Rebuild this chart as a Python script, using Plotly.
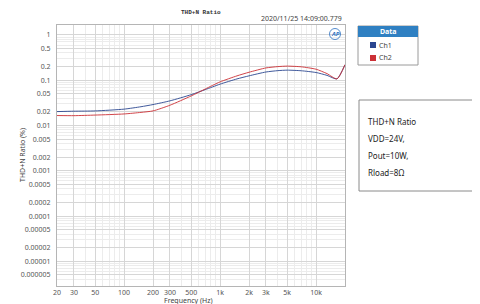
import plotly.graph_objects as go
import numpy as np

freq = [20, 30, 50, 100, 150, 200, 300, 500, 700, 1000, 1500, 2000, 3000, 4000, 5000, 7000, 10000, 13000, 16500, 20000]
ch1 = [0.0203, 0.0207, 0.021, 0.023, 0.026, 0.029, 0.035, 0.048, 0.062, 0.082, 0.107, 0.125, 0.152, 0.163, 0.167, 0.162, 0.148, 0.128, 0.107, 0.22]
ch2 = [0.0166, 0.0165, 0.017, 0.018, 0.0195, 0.021, 0.028, 0.045, 0.064, 0.092, 0.125, 0.150, 0.187, 0.200, 0.205, 0.198, 0.175, 0.14, 0.107, 0.22]

x_tickvals = [20, 30, 50, 100, 200, 300, 500, 1000, 2000, 3000, 5000, 10000]
x_ticktext = ["20", "30", "50", "100", "200", "300", "500", "1k", "2k", "3k", "5k", "10k"]
y_tickvals = [1, 0.5, 0.2, 0.1, 0.05, 0.02, 0.01, 0.005, 0.002, 0.001, 0.0005, 0.0002,
              0.0001, 0.00005, 0.00002, 0.00001, 0.000005]
y_ticktext = ["1", "0.5", "0.2", "0.1", "0.05", "0.02", "0.01", "0.005", "0.002", "0.001", "0.0005",
              "0.0002", "0.0001", "0.00005", "0.00002", "0.00001", "0.000005"]
info_lines = ["THD+N Ratio", "VDD=24V,", "Pout=10W,", "Rload=8Ω"]
legend_names = ["Ch1", "Ch2"]
colors = ["#2a4690", "#cc3036"]

OFF = 8  # page body margin
W, H = 480 - OFF, 304 - OFF
L, R, T, B = 57 - OFF, 345 - OFF, 25 - OFF, 286 - OFF


def px(p):
    return (p - OFF - L) / (R - L)


def py(p):
    return (B - (p - OFF)) / (B - T)


minor_x = [m * 10 ** e for e in range(1, 5) for m in range(1, 10) if 20 <= m * 10 ** e <= 20000]
minor_y = [m * 10 ** e for e in range(-6, 1) for m in range(1, 10)]

fig = go.Figure()
for name, vals, c in zip(legend_names, [ch1, ch2], colors):
    fig.add_trace(go.Scatter(x=freq, y=vals, mode="lines", name=name,
                             line=dict(color=c, width=0.9, shape="spline", smoothing=0.6),
                             showlegend=False))

tickfont = dict(family="Noto Sans, Open Sans, sans-serif", size=7, color="#555")
fig.update_layout(
    width=W, height=H,
    margin=dict(l=L, r=W - R, t=T, b=H - B, pad=0),
    paper_bgcolor="white", plot_bgcolor="white",
    xaxis=dict(type="log", range=[np.log10(20), np.log10(20000)], automargin=False,
               tickmode="array", tickvals=x_tickvals, ticktext=x_ticktext,
               tickfont=tickfont, showgrid=True, gridcolor="#d6d6d6", gridwidth=1,
               minor=dict(tickmode="array", tickvals=minor_x, showgrid=True, gridcolor="#ececec"),
               showline=True, linecolor="#b5b5b5", mirror=True, ticks="", zeroline=False,
               ticklabelstandoff=0),
    yaxis=dict(type="log", range=[-5.545, 0.22], automargin=False,
               tickmode="array", tickvals=y_tickvals, ticktext=y_ticktext,
               tickfont=tickfont, showgrid=True, gridcolor="#d6d6d6", gridwidth=1,
               minor=dict(tickmode="array", tickvals=minor_y, showgrid=True, gridcolor="#ececec"),
               showline=True, linecolor="#b5b5b5", mirror=True, ticks="", zeroline=False,
               ticklabelstandoff=4),
)

ann = []
shapes = []


def txt(x, y, t, size=7, color="#444", xanchor="center", family="Noto Sans, sans-serif", angle=0):
    ann.append(dict(x=px(x), y=py(y), xref="paper", yref="paper", text=t, showarrow=False,
                    xanchor=xanchor, yanchor="middle", textangle=angle,
                    font=dict(family=family, size=size, color=color)))


txt(201, 12.5, "<b>THD+N Ratio</b>", size=6, color="#333", family="Liberation Mono, DejaVu Sans Mono, monospace")
txt(344, 18.5, "2020/11/25 14:09:00.779", size=7, xanchor="right")
txt(335, 34, "<b><i>AP</i></b>", size=6, color="#2a6fc0")
shapes.append(dict(type="circle", xref="paper", yref="paper", x0=px(329.5), x1=px(340.5), y0=py(39.5), y1=py(28.5),
                   line=dict(color="#2a6fc0", width=0.8)))
txt(22, 155, "THD+N Ratio (%)", angle=-90)
txt(188, 300, "Frequency (Hz)")

# Legend box
shapes.append(dict(type="rect", xref="paper", yref="paper", x0=px(358), x1=px(418), y0=py(65), y1=py(26),
                   line=dict(color="#9a9a9a", width=1), fillcolor="white"))
shapes.append(dict(type="rect", xref="paper", yref="paper", x0=px(358), x1=px(418), y0=py(37), y1=py(26),
                   line=dict(width=0), fillcolor="#2f80c2"))
txt(388, 31.5, "<b>Data</b>", color="white")
for i, (nm, c) in enumerate(zip(legend_names, colors)):
    yc = 45 + 13 * i
    shapes.append(dict(type="rect", xref="paper", yref="paper", x0=px(370), x1=px(376), y0=py(yc + 3), y1=py(yc - 3),
                       line=dict(width=0), fillcolor=c))
    txt(377, yc, nm, xanchor="left")

# Info box
shapes.append(dict(type="rect", xref="paper", yref="paper", x0=px(359), x1=px(492), y0=py(191), y1=py(100),
                   line=dict(color="#8a8a8a", width=1), fillcolor="white"))
for i, t in enumerate(info_lines):
    txt(366, 121 + 17 * i, t, size=8, color="#222", xanchor="left")

fig.update_layout(annotations=ann, shapes=shapes)
fig.write_html("out.html")
